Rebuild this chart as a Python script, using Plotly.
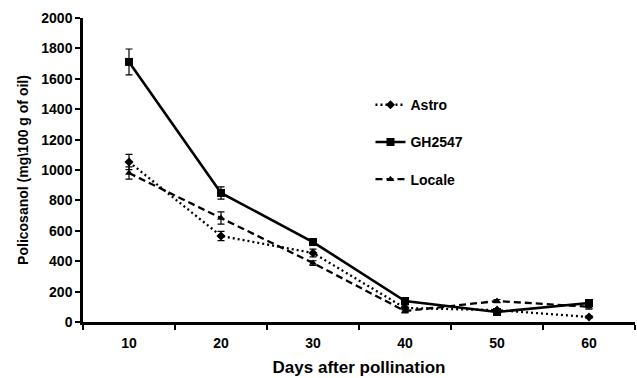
import plotly.graph_objects as go

days = ["10", "20", "30", "40", "50", "60"]
astro = [1053, 566, 454, 92, 78, 33]
astro_err = [50, 30, 25, 12, 10, 8]
gh2547 = [1711, 849, 526, 138, 66, 125]
gh2547_err = [85, 40, 20, 12, 10, 15]
locale = [980, 684, 388, 72, 138, 100]
locale_err = [40, 40, 15, 12, 10, 15]

font_family = "Liberation Sans"

fig = go.Figure()

def add(name, y, err, dash, symbol, msize, width, group):
    fig.add_trace(go.Scatter(
        x=days, y=y, name=name, mode="lines+markers",
        line=dict(color="black", width=width, dash=dash),
        marker=dict(symbol=symbol, size=msize, color="black"),
        error_y=dict(type="data", array=err, visible=True, color="black",
                     thickness=1.2, width=3.5),
        legendgroup=group,
    ))

add("Astro", astro, astro_err, "2px,3px", "diamond", 7, 2.3, "a")
add("GH2547", gh2547, gh2547_err, "solid", "square", 8, 2.6, "b")
add("Locale", locale, locale_err, "7px,4px", "triangle-up", 7, 2.3, "c")

fig.update_layout(
    width=637, height=378,
    margin=dict(l=83, r=2, t=18, b=56),
    paper_bgcolor="white", plot_bgcolor="white",
    font=dict(family=font_family, color="black"),
    showlegend=True,
    legend=dict(x=0.5208, y=0.766, xanchor="left", yanchor="top",
                bgcolor="rgba(0,0,0,0)", tracegroupgap=16,
                font=dict(size=14, family=font_family, color="black", weight="bold"),
                itemwidth=30),
    xaxis=dict(
        type="category", range=[-0.5, 5.5],
        tickson="boundaries", ticks="outside", ticklen=5, tickwidth=2,
        tickcolor="black", ticklabelstandoff=6,
        showline=True, linecolor="black", linewidth=2.5,
        showgrid=False, zeroline=False,
        tickfont=dict(size=14, family=font_family, color="black", weight="bold"),
        title=dict(text="Days after pollination", standoff=12,
                   font=dict(size=17, family=font_family, color="black", weight="bold")),
    ),
    yaxis=dict(
        range=[0, 2000], dtick=200,
        ticks="outside", ticklen=5, tickwidth=2, tickcolor="black",
        showline=True, linecolor="black", linewidth=2.5,
        showgrid=False, zeroline=False,
        tickfont=dict(size=14, family=font_family, color="black", weight="bold"),
        title=dict(text="Policosanol (mg\\100 g of oil)", standoff=10,
                   font=dict(size=14, family=font_family, color="black", weight="bold")),
    ),
)

fig.write_html("out.html")
